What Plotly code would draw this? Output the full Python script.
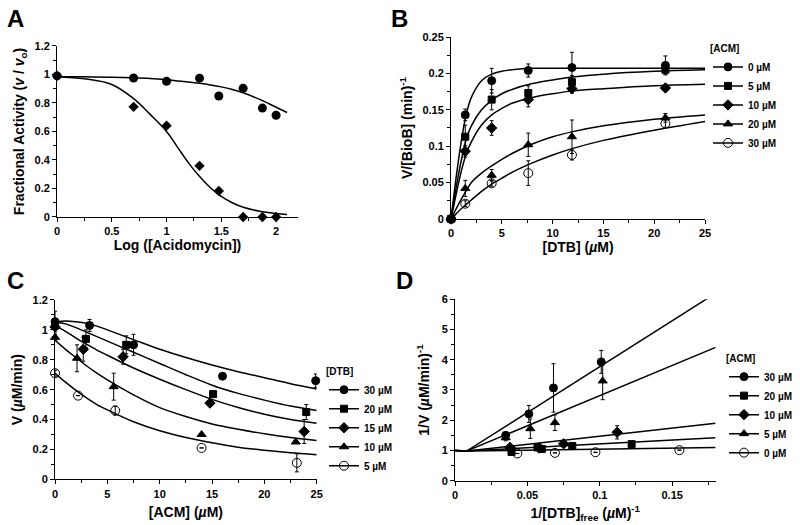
import plotly.graph_objects as go

# ---------------- Panel A ----------------
a_logx = [0, 0.699, 1.0, 1.301, 1.477, 1.699, 1.875, 2.0]
a_circle = [0.99, 0.975, 0.952, 0.974, 0.849, 0.903, 0.764, 0.714]
a_diamond = [0.99, 0.773, 0.641, 0.359, 0.182, 0.0, 0.0, 0.0]
a_fit_x = [0, 0.25, 0.5, 0.7, 0.85, 1.0, 1.1, 1.2, 1.3, 1.4, 1.5, 1.6, 1.7, 1.85, 2.0, 2.1]
a_fit_circle = [0.985, 0.984, 0.981, 0.977, 0.972, 0.963, 0.955, 0.947, 0.938, 0.927,
                0.913, 0.895, 0.872, 0.825, 0.77, 0.733]
a_fit_diamond = [0.985, 0.97, 0.93, 0.83, 0.72, 0.6, 0.49, 0.38, 0.285, 0.205,
                 0.145, 0.1, 0.068, 0.04, 0.024, 0.017]

# ---------------- Panel B ----------------
b_x = [0, 1.4, 4.0, 7.6, 11.9, 21.1]
b_labels = ["0 µM", "5 µM", "10 µM", "20 µM", "30 µM"]
b_vals = [
    [0, 0.143, 0.190, 0.204, 0.208, 0.211],
    [0, 0.113, 0.164, 0.173, 0.188, 0.205],
    [0, 0.093, 0.125, 0.164, 0.179, 0.180],
    [0, 0.042, 0.060, 0.102, 0.113, 0.139],
    [0, 0.021, 0.049, 0.063, 0.088, 0.131],
]
b_err = [
    [0, 0.008, 0.017, 0.009, 0.021, 0.013],
    [0, 0.016, 0.014, 0.010, 0.009, 0.006],
    [0, 0.008, 0.010, 0.010, 0.006, 0.003],
    [0, 0.011, 0.008, 0.016, 0.023, 0.006],
    [0, 0.004, 0.004, 0.017, 0.007, 0.005],
]
b_fit_x = [0, 0.5, 1, 1.5, 2, 3, 4, 5, 6, 8, 10, 12, 15, 20, 25]
b_fits = [
    [0, 0.057, 0.106, 0.144, 0.167, 0.190, 0.199, 0.203, 0.205, 0.207, 0.207, 0.207, 0.207, 0.207, 0.207],
    [0, 0.043, 0.080, 0.110, 0.128, 0.150, 0.163, 0.172, 0.178, 0.186, 0.191, 0.195, 0.199, 0.203, 0.205],
    [0, 0.034, 0.065, 0.090, 0.106, 0.129, 0.143, 0.152, 0.159, 0.167, 0.172, 0.176, 0.179, 0.183, 0.185],
    [0, 0.014, 0.027, 0.039, 0.050, 0.063, 0.073, 0.082, 0.090, 0.103, 0.113, 0.120, 0.128, 0.137, 0.143],
    [0, 0.007, 0.014, 0.020, 0.026, 0.038, 0.048, 0.056, 0.064, 0.077, 0.088, 0.097, 0.108, 0.122, 0.134],
]

# ---------------- Panel C ----------------
c_labels = ["30 µM", "20 µM", "15 µM", "10 µM", "5 µM"]
c_x = [
    [0, 3.3, 7.5, 16.0, 24.9],
    [0, 2.95, 6.8, 15.1, 24.0],
    [0, 2.7, 6.5, 14.8, 23.8],
    [0, 2.1, 5.6, 14.0, 23.0],
    [0, 2.2, 5.75, 14.0, 23.1],
]
c_vals = [
    [1.055, 1.03, 0.90, 0.69, 0.66],
    [1.03, 0.94, 0.90, 0.57, 0.45],
    [1.02, 0.87, 0.82, 0.51, 0.32],
    [0.95, 0.81, 0.62, 0.30, 0.25],
    [0.71, 0.56, 0.46, 0.21, 0.11],
]
c_err = [
    [0.07, 0.04, 0.07, 0.0, 0.045],
    [0.03, 0.06, 0.06, 0.0, 0.05],
    [0.02, 0.08, 0.05, 0.0, 0.08],
    [0.02, 0.09, 0.09, 0.0, 0.0],
    [0.02, 0.0, 0.03, 0.0, 0.06],
]
c_fit_x = [0, 1, 2, 3, 4, 5, 7.5, 10, 12.5, 15, 17.5, 20, 22.5, 25]
c_fits = [
    [1.055, 1.06, 1.055, 1.045, 1.025, 1.0, 0.935, 0.87, 0.815, 0.765, 0.72, 0.68, 0.64, 0.605],
    [1.055, 1.04, 1.015, 0.985, 0.955, 0.925, 0.85, 0.775, 0.70, 0.63, 0.575, 0.53, 0.49, 0.46],
    [1.03, 0.99, 0.945, 0.905, 0.865, 0.83, 0.745, 0.67, 0.60, 0.535, 0.48, 0.435, 0.40, 0.375],
    [0.93, 0.87, 0.815, 0.76, 0.71, 0.665, 0.565, 0.48, 0.42, 0.37, 0.335, 0.305, 0.28, 0.26],
    [0.71, 0.65, 0.595, 0.545, 0.50, 0.465, 0.385, 0.325, 0.28, 0.245, 0.215, 0.195, 0.178, 0.165],
]

# ---------------- Panel D ----------------
d_labels = ["30 µM", "20 µM", "10 µM", "5 µM", "0 µM"]
d_x = [
    [0.035, 0.051, 0.068, 0.101],
    [0.039, 0.057, 0.060, 0.081, 0.122],
    [0.038, 0.058, 0.075, 0.112],
    [0.035, 0.052, 0.069, 0.102],
    [0.043, 0.069, 0.097, 0.155],
]
d_vals = [
    [1.50, 2.21, 3.07, 3.93],
    [0.95, 1.10, 1.05, 1.15, 1.21],
    [1.10, 1.08, 1.22, 1.60],
    [1.42, 1.72, 1.92, 3.30],
    [0.90, 0.92, 0.94, 1.01],
]
d_err = [
    [0.10, 0.28, 0.80, 0.38],
    [0.05, 0.05, 0.05, 0.05, 0.05],
    [0.05, 0.05, 0.05, 0.22],
    [0.10, 0.32, 0.26, 0.62],
    [0.0, 0.0, 0.0, 0.0],
]
d_fit_x = [0, 0.008, 0.18]
d_fits = [
    [1.0, 0.98, 6.2],
    [1.0, 0.98, 4.41],
    [1.0, 0.98, 1.90],
    [1.0, 0.98, 1.42],
    [1.0, 0.98, 1.10],
]

symbols5 = ["circle", "square", "diamond", "triangle-up", "circle-open"]
sizes5 = [8, 7, 8, 8, 9]
FONT = "Arial, Liberation Sans, sans-serif"

fig = go.Figure()

def err(arr):
    return dict(type="data", array=arr, color="black", thickness=1, width=2)

# Panel A
fig.add_trace(go.Scatter(x=a_fit_x, y=a_fit_circle, mode="lines", line=dict(color="black", width=1.5, shape="spline"),
                         xaxis="x", yaxis="y", showlegend=False))
fig.add_trace(go.Scatter(x=a_fit_x, y=a_fit_diamond, mode="lines", line=dict(color="black", width=1.5, shape="spline"),
                         xaxis="x", yaxis="y", showlegend=False))
fig.add_trace(go.Scatter(x=a_logx, y=a_circle, mode="markers", marker=dict(symbol="circle", size=9, color="black"),
                         xaxis="x", yaxis="y", showlegend=False, cliponaxis=False))
fig.add_trace(go.Scatter(x=a_logx, y=a_diamond, mode="markers", marker=dict(symbol="diamond", size=8, color="black"),
                         xaxis="x", yaxis="y", showlegend=False, cliponaxis=False))

def panel(ax, ay, fit_x, fits, xs, vals, errs, labels, legend):
    for f in fits:
        fig.add_trace(go.Scatter(x=fit_x, y=f, mode="lines",
                                 line=dict(color="black", width=1.5, shape="spline", smoothing=0.8),
                                 xaxis=ax, yaxis=ay, showlegend=False))
    for i in range(5):
        fig.add_trace(go.Scatter(x=xs[i], y=vals[i], mode="markers", error_y=err(errs[i]),
                                 marker=dict(symbol=symbols5[i], size=sizes5[i], color="black",
                                             line=dict(color="black", width=1)),
                                 xaxis=ax, yaxis=ay, showlegend=False, cliponaxis=False))
    for i in range(5):
        fig.add_trace(go.Scatter(x=[None], y=[None], mode="lines+markers", name=labels[i],
                                 marker=dict(symbol=symbols5[i], size=sizes5[i], color="black",
                                             line=dict(color="black", width=1)),
                                 line=dict(color="black", width=1.5),
                                 xaxis=ax, yaxis=ay, legend=legend, showlegend=True))

panel("x2", "y2", b_fit_x, b_fits, [b_x] * 5, b_vals, b_err, b_labels, "legend")
panel("x3", "y3", c_fit_x, c_fits, c_x, c_vals, c_err, c_labels, "legend2")

# Panel D: straight lines
for f in d_fits:
    fig.add_trace(go.Scatter(x=d_fit_x, y=f, mode="lines", line=dict(color="black", width=1.5),
                             xaxis="x4", yaxis="y4", showlegend=False))
for i in range(5):
    fig.add_trace(go.Scatter(x=d_x[i], y=d_vals[i], mode="markers", error_y=err(d_err[i]),
                             marker=dict(symbol=symbols5[i], size=sizes5[i], color="black",
                                         line=dict(color="black", width=1)),
                             xaxis="x4", yaxis="y4", showlegend=False, cliponaxis=False))
for i in range(5):
    fig.add_trace(go.Scatter(x=[None], y=[None], mode="lines+markers", name=d_labels[i],
                             marker=dict(symbol=symbols5[i], size=sizes5[i], color="black",
                                         line=dict(color="black", width=1)),
                             line=dict(color="black", width=1.5),
                             xaxis="x4", yaxis="y4", legend="legend3", showlegend=True))

tickfont = dict(family=FONT, size=11, color="black", weight="bold")
titlefont = dict(family=FONT, size=14, color="black", weight="bold")

def axis(domain, rng, dtick, minor, title, anchor, standoff=6):
    return dict(domain=domain, range=rng, dtick=dtick, tick0=0, anchor=anchor,
                showline=True, linecolor="black", linewidth=1, ticks="outside", ticklen=4,
                tickcolor="black", showgrid=False, zeroline=False, tickfont=tickfont,
                minor=dict(ticks="outside", ticklen=3, tickcolor="black", dtick=minor, showgrid=False),
                title=dict(text=title, font=titlefont, standoff=standoff), automargin=False,
                fixedrange=True)

legfont = dict(family=FONT, size=10, color="black", weight="bold")

fig.update_layout(
    width=800, height=525, margin=dict(l=0, r=0, t=0, b=0, autoexpand=False),
    paper_bgcolor="white", plot_bgcolor="white", font=dict(family=FONT, color="black"),
    xaxis=axis([0.0713, 0.3725], [0, 2.2], 0.5, 0.25, "Log ([Acidomycin])", "y", 2),
    yaxis=axis([0.5867, 0.9124], [0, 1.2], 0.2, 0.1, "Fractional Activity (<i>v</i> / <i>v</i><sub>o</sub>)", "x", 6),
    xaxis2=axis([0.5638, 0.8813], [0, 25], 5, 2.5, "[DTB] (<i>µ</i>M)", "y2", 4),
    yaxis2=axis([0.5829, 0.9295], [0, 0.25], 0.05, 0.025, "V/[BioB] (min)<sup>-1</sup>", "x2", 6),
    xaxis3=axis([0.0688, 0.3959], [0, 25], 5, 2.5, "[ACM] (<i>µ</i>M)", "y3", 8),
    yaxis3=axis([0.0870, 0.4286], [0, 1.2], 0.2, 0.1, "V (<i>µ</i>M/min)", "x3", 6),
    xaxis4=axis([0.5688, 0.8945], [0, 0.18], 0.05, 0.025, "1/[DTB]<sub>free</sub> (<i>µ</i>M)<sup>-1</sup>", "y4", 8),
    yaxis4=axis([0.0844, 0.4299], [0, 6], 1, 0.5, "1/V (<i>µ</i>M/min)<sup>-1</sup>", "x4", 8),
    legend=dict(x=0.885, y=0.925, xanchor="left", yanchor="top", bgcolor="rgba(0,0,0,0)",
                title=dict(text="[ACM]", font=legfont), font=legfont, itemwidth=30),
    legend2=dict(x=0.405, y=0.31, xanchor="left", yanchor="top", bgcolor="rgba(0,0,0,0)",
                 title=dict(text="[DTB]", font=legfont), font=legfont, itemwidth=30),
    legend3=dict(x=0.905, y=0.335, xanchor="left", yanchor="top", bgcolor="rgba(0,0,0,0)",
                 title=dict(text="[ACM]", font=legfont), font=legfont, itemwidth=30),
    annotations=[
        dict(text="<b>A</b>", x=0.006, y=0.995, xref="paper", yref="paper", xanchor="left", yanchor="top",
             showarrow=False, font=dict(family=FONT, size=24, color="black")),
        dict(text="<b>B</b>", x=0.486, y=0.995, xref="paper", yref="paper", xanchor="left", yanchor="top",
             showarrow=False, font=dict(family=FONT, size=24, color="black")),
        dict(text="<b>C</b>", x=0.006, y=0.495, xref="paper", yref="paper", xanchor="left", yanchor="top",
             showarrow=False, font=dict(family=FONT, size=24, color="black")),
        dict(text="<b>D</b>", x=0.493, y=0.495, xref="paper", yref="paper", xanchor="left", yanchor="top",
             showarrow=False, font=dict(family=FONT, size=24, color="black")),
    ],
)

fig.write_html("out.html", config={"displayModeBar": False},
               post_script="document.body.style.margin='0px';document.body.style.overflow='hidden';")
